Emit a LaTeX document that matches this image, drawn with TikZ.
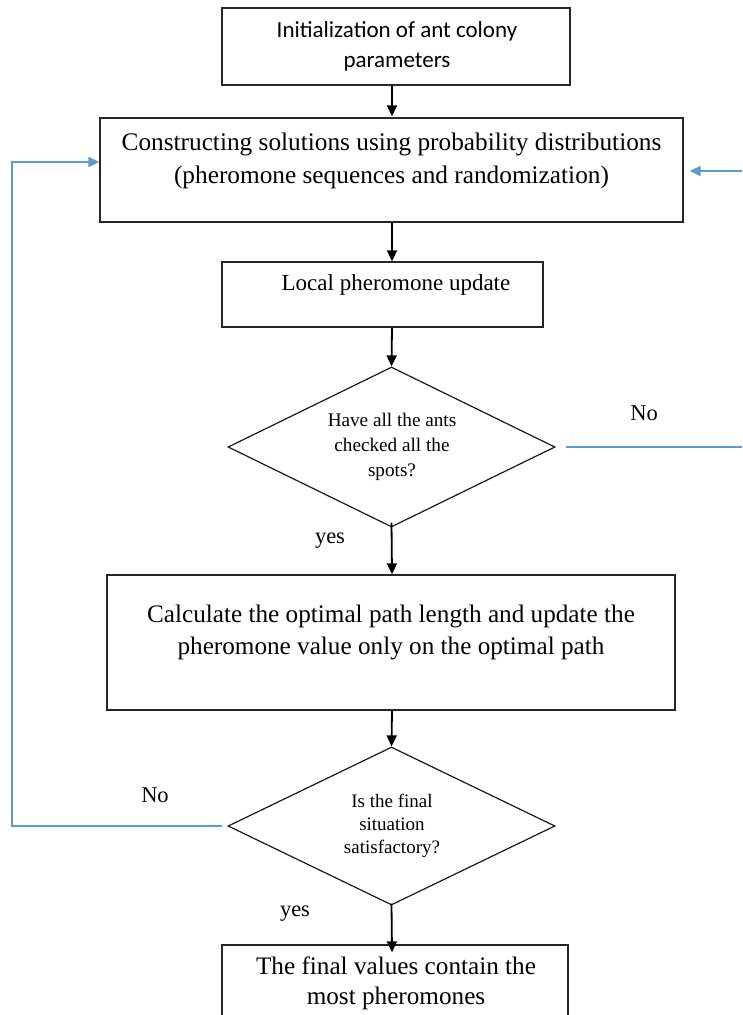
\documentclass[tikz,border=0pt]{standalone}
\usepackage{fontspec}
\setmainfont{Liberation Serif}
\newfontfamily\calibfont{Carlito}
\usetikzlibrary{shapes.geometric,arrows.meta}
\definecolor{flowblue}{HTML}{5B9BD5}
\tikzset{
  box/.style={draw=black!85, line width=1.4pt, rectangle, inner sep=0pt},
  dec/.style={draw=black!90, line width=1.2pt, diamond, inner sep=0pt},
  txt/.style={align=center, inner sep=0pt},
  flow/.style={line width=1.8pt, -{Triangle[length=11pt,width=10pt]}},
  back/.style={draw=flowblue, line width=2pt},
  backarrow/.style={back, -{Triangle[length=11pt,width=10pt]}},
  lab/.style={inner sep=0pt, font=\fontsize{22.5}{26}\selectfont}
}
\begin{document}
\begin{tikzpicture}[x=1pt,y=-1pt]
\useasboundingbox (0,0) rectangle (742,1015);
\clip (0,0) rectangle (742,1015);
% column of the main flow
\coordinate (col) at (392,0);
% boxes
\node[box, minimum width=348pt, minimum height=77pt] (b1) at (396,46.5) {};
\node[txt, font=\calibfont\fontsize{23}{30}\selectfont] (t1) at (397,46) {Initialization of ant colony\\parameters};
\node[box, minimum width=583pt, minimum height=104pt] (b2) at (391.5,170) {};
\node[txt, font=\fontsize{25.3}{33}\selectfont] (t2) at (391.5,161) {Constructing solutions using probability distributions\\(pheromone sequences and randomization)};
\node[box, minimum width=321pt, minimum height=65pt] (b3) at (382.5,294.5) {};
\node[txt, font=\fontsize{23}{27}\selectfont] (t3) at (396,285) {Local pheromone update};
\node[dec, minimum width=327pt, minimum height=160pt] (d1) at (391.5,447) {};
\node[txt, font=\fontsize{19.2}{25}\selectfont] (t4) at (392,447) {Have all the ants\\checked all the\\spots?};
\node[box, minimum width=568pt, minimum height=135pt] (b4) at (391,642.5) {};
\node[txt, font=\fontsize{25.2}{32}\selectfont] (t5) at (391,632) {Calculate the optimal path length and update the\\pheromone value only on the optimal path};
\node[dec, minimum width=327pt, minimum height=158pt] (d2) at (391.5,826) {};
\node[txt, font=\fontsize{19}{23}\selectfont] (t6) at (392,826) {Is the final\\situation\\satisfactory?};
\node[box, minimum width=346pt, minimum height=100pt] (b5) at (395,995) {};
\node[txt, font=\fontsize{25.2}{30}\selectfont] (t7) at (396,983) {The final values contain the\\most pheromones};
% labels
\node[lab] (no1) at (644,413) {No};
\node[lab] (no2) at (155,795) {No};
\node[lab] (yes1) at (330,541) {yes};
\node[lab] (yes2) at (295,914) {yes};
% main flow arrows
\draw[flow] (b1.south -| col) -- ([yshift=1pt]b2.north -| col);
\draw[flow] (b2.south -| col) -- (b3.north -| col);
\draw[flow] (b3.south -| col) -- (d1.north);
\draw[flow] ([yshift=5pt]d1.south) -- (b4.north -| col);
\draw[flow] (b4.south -| col) -- (d2.north);
\draw[flow] ([yshift=2pt]d2.south) -- ([yshift=-8pt]b5.north -| col);
% feedback loops
\coordinate (loopx) at (12,0);
\coordinate (rend1) at (742,447);
\coordinate (rend2) at (742,171);
\draw[backarrow] ([xshift=-5pt]d2.west) -- (d2.west -| loopx) -- (loopx |- 0,162) -- (b2.west |- 0,162);
\draw[back] ([xshift=10pt]d1.east) -- (rend1);
\draw[backarrow] (rend2) -- ([xshift=6pt]b2.east |- rend2);
\end{tikzpicture}
\end{document}
